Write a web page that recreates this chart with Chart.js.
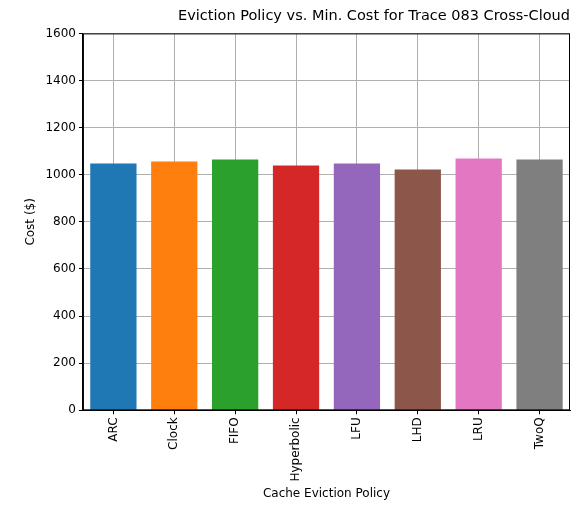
<!DOCTYPE html>
<html>
<head>
<script src="https://cdn.jsdelivr.net/npm/chart.js@4"></script>
<style>
  html, body { margin: 0; padding: 0; background: #fff; }
  #wrap { width: 580px; height: 515px; }
</style>
</head>
<body>
<div id="wrap"><canvas id="chart" width="580" height="515"></canvas></div>
<script>
// datos del grafico
var policies = ['ARC', 'Clock', 'FIFO', 'Hyperbolic', 'LFU', 'LHD', 'LRU', 'TwoQ'];
var costs = [1048, 1056, 1065, 1039, 1048, 1022, 1069, 1065];
var barColors = ['#1f77b4', '#ff7f0e', '#2ca02c', '#d62728', '#9467bd', '#8c564b', '#e377c2', '#7f7f7f'];

var font = { family: 'DejaVu Sans', size: 12 };

// marco completo del area (como matplotlib)
var frame = {
  id: 'frame',
  afterDraw: function (chart) {
    var a = chart.chartArea, c = chart.ctx;
    c.save();
    c.strokeStyle = '#000';
    c.lineWidth = 1;
    c.strokeRect(a.left + 0.5, a.top + 0.5, a.right - a.left - 1, a.bottom - a.top - 1);
    c.restore();
  }
};

new Chart(document.getElementById('chart').getContext('2d'), {
  type: 'bar',
  data: {
    labels: policies,
    datasets: [{ data: costs, backgroundColor: barColors, barPercentage: 0.8, categoryPercentage: 0.95 }]
  },
  options: {
    responsive: false,
    animation: false,
    layout: { padding: { left: 20, right: 10, top: 4, bottom: 10 } },
    plugins: {
      legend: { display: false },
      tooltip: { enabled: false },
      title: { display: true, text: 'Eviction Policy vs. Min. Cost for Trace 083 Cross-Cloud',
               color: '#000', font: { family: 'DejaVu Sans', size: 14.5, weight: 'normal' },
               padding: { top: 4, bottom: 8 }, align: 'end' }
    },
    scales: {
      x: {
        grid: { color: '#b0b0b0', offset: false, drawTicks: true, tickColor: '#000', tickLength: 4 },
        border: { color: '#000' },
        ticks: { color: '#000', font: font, maxRotation: 90, minRotation: 90 },
        title: { display: true, text: 'Cache Eviction Policy', color: '#000', font: font, padding: { top: 2 } }
      },
      y: {
        min: 0, max: 1600,
        grid: { color: '#b0b0b0', tickColor: '#000', tickLength: 4 },
        border: { color: '#000' },
        ticks: { color: '#000', font: font, stepSize: 200, callback: function (v) { return String(v); } },
        title: { display: true, text: 'Cost ($)', color: '#000', font: font }
      }
    }
  },
  plugins: [frame]
});
</script>
</body>
</html>
